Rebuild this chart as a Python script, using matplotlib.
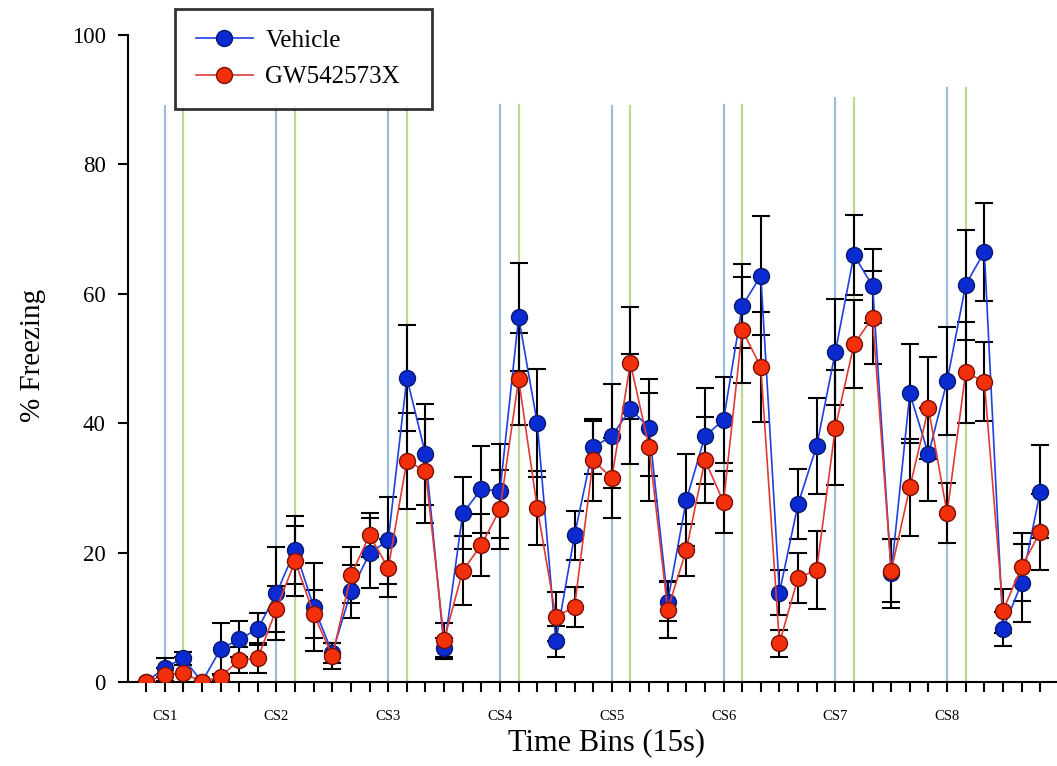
import numpy as np
import matplotlib
matplotlib.use('Agg')
import matplotlib.pyplot as plt
from matplotlib.ticker import FixedLocator, MultipleLocator

plt.rcParams['font.family'] = ['Liberation Serif', 'DejaVu Serif']

# %% data (% freezing per 15 s bin)
vehicle = [0, 2.2, 3.7, 0, 5.1, 6.6, 8.2, 13.7, 20.4, 11.6,
           4.5, 14.0, 19.9, 21.9, 47.0, 35.2, 5.2, 26.1, 29.8, 29.5,
           56.4, 40.0, 6.3, 22.7, 36.3, 38.0, 42.2, 39.3, 12.4, 28.1,
           38.0, 40.5, 58.1, 62.8, 13.8, 27.5, 36.5, 51.0, 66.0, 61.2,
           16.8, 44.6, 35.2, 46.5, 61.4, 66.5, 8.2, 15.3, 29.4]
vehicle_sem = [0, 1.5, 1.0, 0, 4.0, 2.8, 2.5, 7.2, 5.3, 6.8,
               1.5, 4.1, 5.4, 6.7, 8.2, 7.8, 1.6, 5.6, 6.7, 7.3,
               8.4, 8.3, 2.4, 3.8, 4.1, 8.0, 8.5, 7.5, 3.0, 7.1,
               7.4, 6.6, 6.5, 9.2, 3.5, 5.4, 7.4, 8.2, 6.2, 5.7,
               5.3, 7.6, 7.2, 8.4, 8.5, 7.6, 2.6, 6.0, 7.2]
gw = [0, 1.1, 1.4, 0, 0.8, 3.4, 3.7, 11.3, 18.7, 10.5,
      4.0, 16.5, 22.7, 17.6, 34.2, 32.6, 6.5, 17.2, 21.2, 26.7,
      46.8, 26.9, 10.1, 11.6, 34.3, 31.5, 49.3, 36.3, 11.2, 20.4,
      34.3, 27.8, 54.4, 48.7, 6.0, 16.1, 17.3, 39.3, 52.2, 56.3,
      17.2, 30.1, 42.3, 26.1, 47.9, 46.4, 11.0, 17.8, 23.2]
gw_sem = [0, 1.0, 2.5, 0, 0.5, 2.0, 2.3, 3.5, 5.4, 3.7,
          2.0, 4.3, 3.4, 4.5, 7.4, 8.0, 2.6, 5.3, 4.8, 6.1,
          7.1, 5.7, 3.8, 3.1, 6.3, 6.2, 8.7, 8.4, 4.4, 4.0,
          6.6, 4.8, 8.2, 8.5, 2.1, 3.9, 6.0, 8.9, 6.8, 7.2,
          4.9, 7.5, 7.9, 4.6, 7.8, 6.1, 3.4, 5.3, 5.9]
cs_onset = [1, 7, 13, 19, 25, 31, 37, 43]
cs_labels = ['CS1', 'CS2', 'CS3', 'CS4', 'CS5', 'CS6', 'CS7', 'CS8']
cs_line_top = [89, 89, 89, 89.2, 89, 89.2, 90.3, 91.8]

bins = np.arange(len(vehicle))

# %% figure
fig = plt.figure(figsize=(10.57, 7.66), dpi=100)
ax = fig.add_axes([128/1057, 84/766, 929/1057, 647/766])

# CS onset (blue) and shock (green) markers
for x, top in zip(cs_onset, cs_line_top):
    ax.plot([x, x], [0, top], color='#9dbcdc', lw=1.6, zorder=1)
    ax.plot([x + 1, x + 1], [0, top], color='#b9d995', lw=1.6, zorder=1)

series = [
    ('Vehicle', vehicle, vehicle_sem, '#1f3fe0', '#0b2bd0', '#071a70'),
    ('GW542573X', gw, gw_sem, '#e03a34', '#f2300c', '#7a1005'),
]
for i, (name, y, err, lc, fc, ec) in enumerate(series):
    ax.errorbar(bins, y, yerr=err, fmt='none', ecolor='black', elinewidth=1.5,
                capsize=6.5, capthick=1.5, zorder=2 + i)
    ax.plot(bins, y, color=lc, lw=1.2, marker='o', markersize=11.5,
            markerfacecolor=fc, markeredgecolor=ec, markeredgewidth=1.0,
            label=name, zorder=4 + i)

ax.set_xlim(-0.97, 48.9)
ax.set_ylim(0, 100)
ax.set_yticks([0, 20, 40, 60, 80, 100])
ax.xaxis.set_major_locator(FixedLocator(cs_onset))
ax.set_xticklabels(cs_labels, fontsize=10.5)
ax.xaxis.set_minor_locator(MultipleLocator(1))

for s in ['top', 'right']:
    ax.spines[s].set_visible(False)
for s in ['left', 'bottom']:
    ax.spines[s].set_linewidth(1.5)
ax.tick_params(axis='y', direction='out', length=7, width=1.5, labelsize=16.5, pad=9)
ax.tick_params(axis='x', which='both', direction='out', length=7, width=1.5)
ax.tick_params(axis='x', which='major', pad=13)

ax.set_xlabel('Time Bins (15s)', fontsize=22)
ax.xaxis.set_label_coords(0.5156, -0.072)
ax.set_ylabel('% Freezing', fontsize=21)
ax.yaxis.set_label_coords(-0.088, 0.505)

leg = fig.legend(loc='upper left', bbox_to_anchor=(175/1057, 0, 257/1057, 1 - 9/766),
                 mode='expand', borderaxespad=0, fontsize=18, handlelength=2.3,
                 handletextpad=0.5, borderpad=0.82, labelspacing=0.55,
                 fancybox=False, frameon=True)
leg.get_frame().set_edgecolor('black')
leg.get_frame().set_linewidth(2)

fig.savefig('out.png', dpi=100)
